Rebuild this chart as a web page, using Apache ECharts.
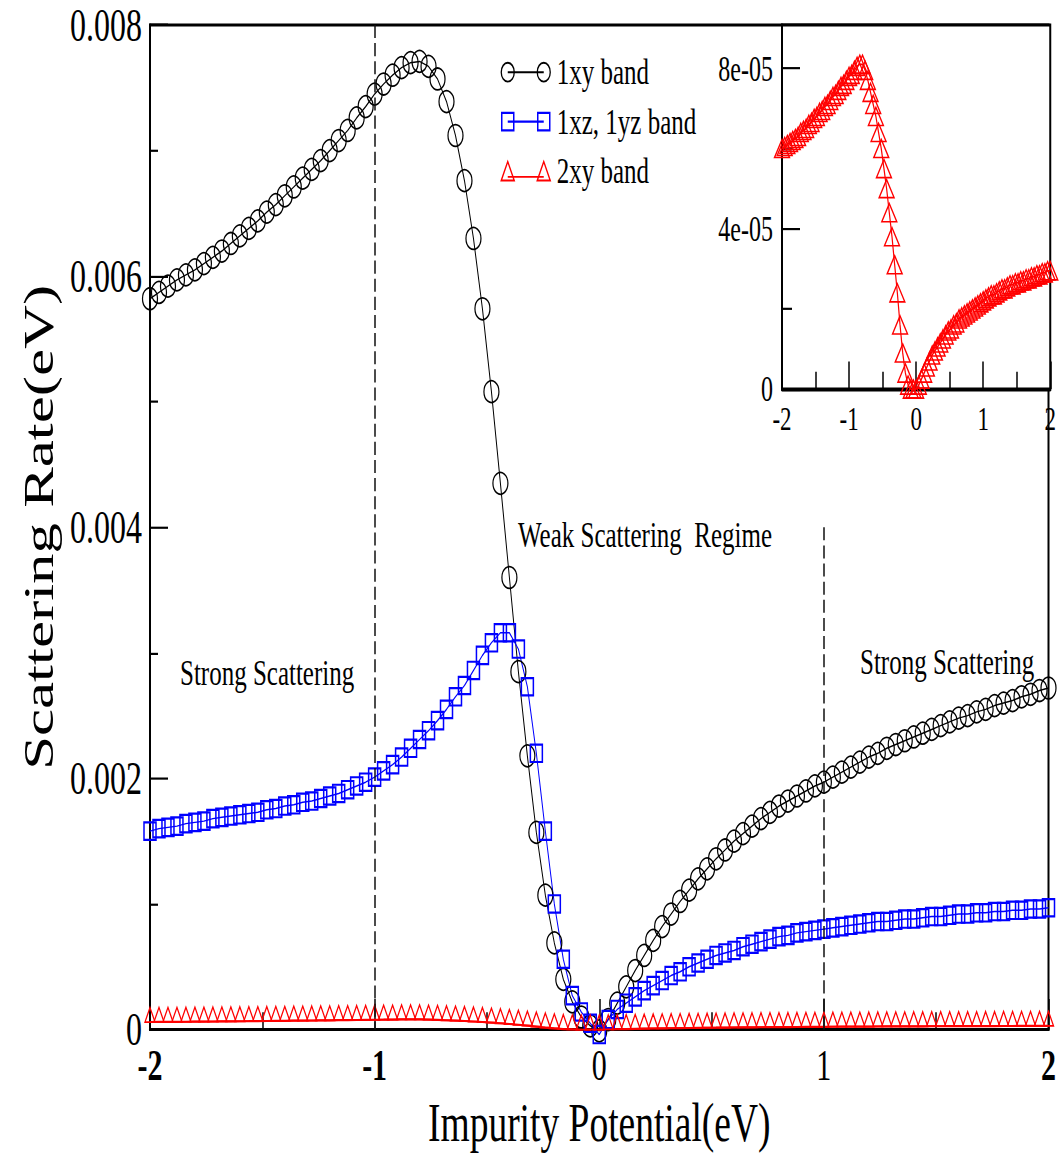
<!DOCTYPE html>
<html>
<head>
<meta charset="utf-8">
<script src="https://cdn.jsdelivr.net/npm/echarts@6/dist/echarts.min.js"></script>
<style>
  html, body { margin: 0; padding: 0; background: #fff; overflow: hidden; width: 1059px; height: 1157px; }
  /* the figure is laid out at 798px and stretched to the full 1157px height */
  #chart { width: 1059px; height: 798px; transform: scaleY(1.449875); transform-origin: 0 0; }
</style>
</head>
<body>
<div id="chart"></div>
<script>
// Impurity potential grid (eV)
const potential = [
  -2.00, -1.96, -1.92, -1.88, -1.84, -1.80, -1.76, -1.72, -1.68, -1.64,
  -1.60, -1.56, -1.52, -1.48, -1.44, -1.40, -1.36, -1.32, -1.28, -1.24,
  -1.20, -1.16, -1.12, -1.08, -1.04, -1.00, -0.96, -0.92, -0.88, -0.84,
  -0.80, -0.76, -0.72, -0.68, -0.64, -0.60, -0.56, -0.52, -0.48, -0.44,
  -0.40, -0.36, -0.32, -0.28, -0.24, -0.20, -0.16, -0.12, -0.08, -0.04,
   0.00,
   0.04,  0.08,  0.12,  0.16,  0.20,  0.24,  0.28,  0.32,  0.36,  0.40,
   0.44,  0.48,  0.52,  0.56,  0.60,  0.64,  0.68,  0.72,  0.76,  0.80,
   0.84,  0.88,  0.92,  0.96,  1.00,  1.04,  1.08,  1.12,  1.16,  1.20,
   1.24,  1.28,  1.32,  1.36,  1.40,  1.44,  1.48,  1.52,  1.56,  1.60,
   1.64,  1.68,  1.72,  1.76,  1.80,  1.84,  1.88,  1.92,  1.96,  2.00
];

// Scattering rate of the 1xy band (eV)
const rate1xy = [
  0.00582, 0.00587, 0.00592, 0.00597, 0.00601, 0.00605, 0.00610, 0.00615, 0.00620, 0.00626,
  0.00632, 0.00638, 0.00644, 0.00651, 0.00657, 0.00664, 0.00671, 0.00678, 0.00685, 0.00692,
  0.00700, 0.00708, 0.00716, 0.00726, 0.00735, 0.00745, 0.00753, 0.00760, 0.00766, 0.00770,
  0.00771, 0.00767, 0.00757, 0.00739, 0.00712, 0.00676, 0.00630, 0.00574, 0.00508, 0.00435,
  0.00360, 0.00285, 0.00218, 0.00157, 0.00107, 0.00069, 0.00040, 0.00022, 0.00010, 0.00003,
  -0.00001,
  0.00008, 0.00021, 0.00034, 0.00047, 0.00059, 0.00071, 0.00082, 0.00092, 0.00102, 0.00111,
  0.00120, 0.00128, 0.00136, 0.00143, 0.00150, 0.00156, 0.00162, 0.00168, 0.00173, 0.00178,
  0.00182, 0.00186, 0.00190, 0.00194, 0.00197, 0.00201, 0.00205, 0.00209, 0.00213, 0.00217,
  0.00220, 0.00224, 0.00227, 0.00230, 0.00233, 0.00236, 0.00239, 0.00242, 0.00245, 0.00248,
  0.00250, 0.00253, 0.00255, 0.00258, 0.00260, 0.00262, 0.00265, 0.00267, 0.00270, 0.00272
];

// Scattering rate of the 1xz / 1yz bands (eV)
const rate1xz1yz = [
  0.00158, 0.00160, 0.00161, 0.00162, 0.00164, 0.00165, 0.00166, 0.00168, 0.00169, 0.00170,
  0.00171, 0.00172, 0.00173, 0.00175, 0.00176, 0.00178, 0.00179, 0.00181, 0.00182, 0.00184,
  0.00186, 0.00188, 0.00191, 0.00194, 0.00197, 0.00201, 0.00206, 0.00211, 0.00217, 0.00224,
  0.00231, 0.00238, 0.00246, 0.00255, 0.00265, 0.00274, 0.00286, 0.00298, 0.00308, 0.00316,
  0.00316, 0.00303, 0.00273, 0.00220, 0.00158, 0.00100, 0.00056, 0.00027, 0.00014, 0.00005,
  -0.00004,
  0.00008, 0.00016, 0.00021, 0.00026, 0.00031, 0.00035, 0.00039, 0.00043, 0.00046, 0.00050,
  0.00053, 0.00056, 0.00059, 0.00061, 0.00063, 0.00066, 0.00068, 0.00070, 0.00072, 0.00074,
  0.00075, 0.00077, 0.00078, 0.00079, 0.00080, 0.00081, 0.00082, 0.00083, 0.00084, 0.00085,
  0.00086, 0.00086, 0.00087, 0.00088, 0.00088, 0.00089, 0.00090, 0.00090, 0.00091, 0.00092,
  0.00092, 0.00093, 0.00093, 0.00094, 0.00094, 0.00095, 0.00095, 0.00096, 0.00096, 0.00097
];

// Scattering rate of the 2xy band (eV)
const rate2xy = [
  6.00e-5, 6.05e-5, 6.10e-5, 6.15e-5, 6.20e-5, 6.25e-5, 6.30e-5, 6.40e-5, 6.45e-5, 6.50e-5,
  6.60e-5, 6.65e-5, 6.75e-5, 6.80e-5, 6.90e-5, 6.95e-5, 7.05e-5, 7.10e-5, 7.20e-5, 7.30e-5,
  7.35e-5, 7.45e-5, 7.55e-5, 7.60e-5, 7.70e-5, 7.80e-5, 7.85e-5, 7.95e-5, 8.05e-5, 8.10e-5,
  8.10e-5, 7.95e-5, 7.70e-5, 7.40e-5, 7.10e-5, 6.80e-5, 6.40e-5, 6.00e-5, 5.50e-5, 5.00e-5,
  4.40e-5, 3.80e-5, 3.10e-5, 2.40e-5, 1.60e-5, 0.90e-5, 0.40e-5, 0.10e-5, 0.00e-5, 0.00e-5,
  0.00e-5,
  0.10e-5, 0.25e-5, 0.40e-5, 0.55e-5, 0.70e-5, 0.85e-5, 0.95e-5, 1.05e-5, 1.15e-5, 1.25e-5,
  1.35e-5, 1.45e-5, 1.50e-5, 1.60e-5, 1.65e-5, 1.75e-5, 1.80e-5, 1.85e-5, 1.90e-5, 1.95e-5,
  2.00e-5, 2.05e-5, 2.10e-5, 2.15e-5, 2.20e-5, 2.25e-5, 2.30e-5, 2.35e-5, 2.35e-5, 2.40e-5,
  2.45e-5, 2.50e-5, 2.50e-5, 2.55e-5, 2.60e-5, 2.60e-5, 2.65e-5, 2.65e-5, 2.70e-5, 2.70e-5,
  2.75e-5, 2.75e-5, 2.80e-5, 2.80e-5, 2.85e-5, 2.85e-5, 2.90e-5, 2.90e-5, 2.95e-5, 2.95e-5
];

// Axis ticks
const potentialTicks = [-2, -1, 0, 1, 2];
const rateTicks = [0, 0.002, 0.004, 0.006, 0.008];
const insetRateTicks = [0, 4e-5, 8e-5];
const insetRateMinorTicks = [2e-5, 6e-5];
const boldTickLabels = [-2, -1, 2];

// Regime boundaries drawn as dashed verticals: [potential, top rate]
const regimeBounds = [[-1, 0.008], [1, 0.004]];

const bandNames = ['1xy band', '1xz, 1yz band', '2xy band'];

const SERIF = "'Liberation Serif', 'Times New Roman', serif";
const INSET_MAX = 9.08e-5;

const pairs = ys => potential.map((x, i) => [x, ys[i]]);

// legend keys: two markers joined by a line
const iconCircles = 'path://M0 0M50 14M0.5 7A6.5 6.5 0 1 1 13.5 7A6.5 6.5 0 1 1 0.5 7ZM7 7L43 7M36.5 7A6.5 6.5 0 1 1 49.5 7A6.5 6.5 0 1 1 36.5 7Z';
const iconSquares = 'path://M0 0M50 14M1 1L13 1L13 13L1 13ZM7 7L43 7M37 1L49 1L49 13L37 13Z';
const iconTriangles = 'path://M0 0M50 14M0.5 13.5L7 0.5L13.5 13.5ZM7 11L43 11M36.5 13.5L43 0.5L49.5 13.5Z';

const chart = echarts.init(document.getElementById('chart'), null, { renderer: 'svg', width: 1059, height: 798 });

const tickLine = { color: '#000', width: 1.5 };

chart.setOption({
  animation: false,
  backgroundColor: '#fff',
  grid: [
    { left: 150, right: 5, top: 17.24, bottom: 81.4, show: true, borderColor: '#000', borderWidth: 2, backgroundColor: 'transparent' },
    { left: 782, right: 6, top: 17.24, height: 251.1, show: true, borderColor: '#000', borderWidth: 2, backgroundColor: '#fff' }
  ],
  xAxis: [
    {
      type: 'value', gridIndex: 0, min: -2, max: 2, interval: 1,
      name: 'Impurity Potential(eV)', nameLocation: 'middle', nameGap: 40.6,
      nameTextStyle: { fontFamily: SERIF, fontSize: 37.5, color: '#000' },
      axisLine: { show: true, onZero: false, lineStyle: { color: '#000', width: 2 } },
      axisTick: { show: true, inside: true, length: 21, lineStyle: tickLine },
      minorTick: { show: true, splitNumber: 2, length: 12, lineStyle: tickLine },
      splitLine: { show: false },
      axisLabel: {
        margin: 10, fontFamily: SERIF, fontSize: 30, color: '#000',
        showMinLabel: true, showMaxLabel: true,
        formatter: v => boldTickLabels.includes(v) ? '{b|' + v + '}' : String(v),
        rich: { b: { fontFamily: SERIF, fontSize: 30, fontWeight: 'bold', color: '#000' } }
      }
    },
    {
      type: 'value', gridIndex: 1, min: -2, max: 2, interval: 1,
      axisLine: { show: true, onZero: false, lineStyle: { color: '#000', width: 2 } },
      axisTick: { show: true, inside: true, length: 19, lineStyle: tickLine },
      minorTick: { show: true, splitNumber: 2, length: 12, lineStyle: tickLine },
      splitLine: { show: false },
      axisLabel: { margin: 9, fontFamily: SERIF, fontSize: 23, color: '#000', showMinLabel: true, showMaxLabel: true }
    }
  ],
  yAxis: [
    {
      type: 'value', gridIndex: 0, min: 0, max: 0.008, interval: 0.002,
      name: 'Scattering Rate(eV)', nameLocation: 'middle', nameGap: 90,
      nameTextStyle: { fontFamily: SERIF, fontSize: 42, color: '#000' },
      axisLine: { show: true, onZero: false, lineStyle: { color: '#000', width: 2 } },
      axisTick: { show: true, inside: true, length: 18, lineStyle: tickLine },
      minorTick: { show: true, splitNumber: 2, length: 8, lineStyle: tickLine },
      splitLine: { show: false },
      axisLabel: {
        margin: 8, fontFamily: SERIF, fontSize: 32, color: '#000',
        showMinLabel: true, showMaxLabel: true,
        customValues: rateTicks,
        formatter: v => v === 0 ? '0' : v.toFixed(3)
      }
    },
    {
      type: 'value', gridIndex: 1, min: 0, max: INSET_MAX, position: 'left',
      axisLine: { show: true, onZero: false, lineStyle: { color: '#000', width: 2 } },
      axisTick: { show: true, inside: true, length: 18, lineStyle: tickLine, customValues: insetRateTicks },
      splitLine: { show: false },
      axisLabel: {
        margin: 9, fontFamily: SERIF, fontSize: 24, color: '#000',
        customValues: insetRateTicks,
        formatter: v => v === 0 ? '0' : (Math.round(v * 1e5) + 'e-05')
      }
    },
    {
      // short intermediate ticks of the inset rate axis
      type: 'value', gridIndex: 1, min: 0, max: INSET_MAX, position: 'left', offset: 0,
      axisLine: { show: false, onZero: false },
      axisTick: { show: true, inside: true, length: 10, lineStyle: tickLine, customValues: insetRateMinorTicks },
      axisLabel: { show: false },
      splitLine: { show: false }
    }
  ],
  legend: {
    orient: 'vertical', left: 495, top: 32.3,
    itemWidth: 50, itemHeight: 14, itemGap: 9.1,
    selectedMode: false,
    textStyle: { fontFamily: SERIF, fontSize: 25, color: '#000', padding: [0, 0, 0, 1] },
    data: [
      { name: bandNames[0], icon: iconCircles, itemStyle: { color: 'transparent', borderColor: '#000', borderWidth: 1.3 } },
      { name: bandNames[1], icon: iconSquares, itemStyle: { color: 'transparent', borderColor: '#0000ff', borderWidth: 1.5 } },
      { name: bandNames[2], icon: iconTriangles, itemStyle: { color: 'transparent', borderColor: '#ff0000', borderWidth: 1.3 } }
    ]
  },
  graphic: [
    { type: 'text', x: 180, y: 464.2, silent: true,
      style: { text: 'Strong Scattering', fontFamily: SERIF, fontSize: 25, fill: '#000', verticalAlign: 'middle' } },
    { type: 'text', x: 860, y: 456.6, silent: true,
      style: { text: 'Strong Scattering', fontFamily: SERIF, fontSize: 25, fill: '#000', verticalAlign: 'middle' } },
    { type: 'text', x: 518, y: 369.0, silent: true,
      style: { text: 'Weak Scattering\u00a0 Regime', fontFamily: SERIF, fontSize: 25, fill: '#000', verticalAlign: 'middle' } }
  ],
  series: [
    {
      name: bandNames[0], type: 'line', xAxisIndex: 0, yAxisIndex: 0,
      data: pairs(rate1xy), clip: false, silent: true, showAllSymbol: true,
      symbol: 'circle', symbolSize: 15,
      itemStyle: { color: 'transparent', borderColor: '#000', borderWidth: 1.2 },
      lineStyle: { color: '#000', width: 1 },
      emphasis: { disabled: true },
      markLine: {
        silent: true, symbol: 'none', label: { show: false },
        lineStyle: { color: '#111', width: 1.5, type: [9, 3.5] },
        data: regimeBounds.map(([x, top]) => [{ coord: [x, top] }, { coord: [x, 0] }])
      }
    },
    {
      name: bandNames[1], type: 'line', xAxisIndex: 0, yAxisIndex: 0,
      data: pairs(rate1xz1yz), clip: false, silent: true, showAllSymbol: true,
      symbol: 'rect', symbolSize: 12,
      itemStyle: { color: 'transparent', borderColor: '#0000ff', borderWidth: 1.5 },
      lineStyle: { color: '#0000ff', width: 1 },
      emphasis: { disabled: true }
    },
    {
      name: bandNames[2], type: 'line', xAxisIndex: 0, yAxisIndex: 0,
      data: pairs(rate2xy), clip: false, silent: true, showAllSymbol: true,
      symbol: 'triangle', symbolSize: [10, 10], symbolOffset: [0, -5],
      itemStyle: { color: 'transparent', borderColor: '#ff0000', borderWidth: 1.2 },
      lineStyle: { color: '#ff0000', width: 1.5 },
      emphasis: { disabled: true }
    },
    {
      name: bandNames[2], type: 'line', xAxisIndex: 1, yAxisIndex: 1,
      data: pairs(rate2xy), clip: false, silent: true, showAllSymbol: true,
      symbol: 'triangle', symbolSize: [15, 12.5],
      itemStyle: { color: 'transparent', borderColor: '#ff0000', borderWidth: 1.2 },
      lineStyle: { color: '#ff0000', width: 1.2 },
      emphasis: { disabled: true }
    }
  ]
});
</script>
</body>
</html>
